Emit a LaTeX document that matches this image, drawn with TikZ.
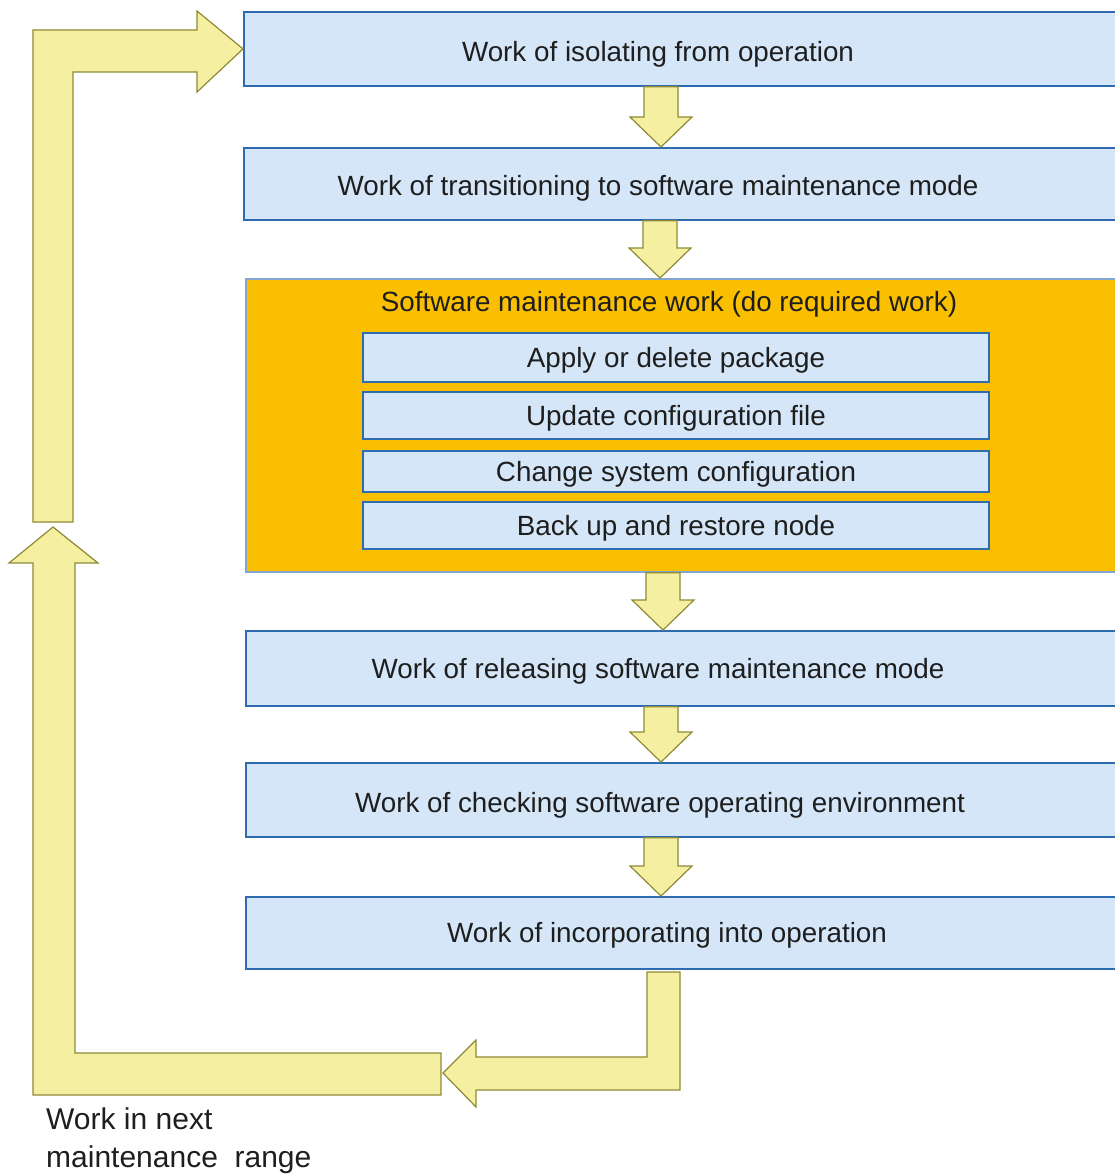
\documentclass[tikz,border=0pt]{standalone}
\usepackage{fontspec}
\setmainfont{Liberation Sans}
\usetikzlibrary{calc}

\definecolor{stepblue}{HTML}{D5E6F8}
\definecolor{stepedge}{HTML}{2E6BB0}
\definecolor{workorange}{HTML}{F9BF00}
\definecolor{arrowfill}{HTML}{F5EFA2}
\definecolor{arrowedge}{HTML}{8E8A35}
\definecolor{textgray}{HTML}{1E1E1E}

% block arrow pointing down: #1 = x of its axis, #2 = upper node, #3 = lower node
\newcommand{\flowarrow}[3]{%
  \draw[blockarrow] let \p1=(#2.south), \p2=(#3.north) in
    ({(#1-17)*1pt},\y1) -- ({(#1+17)*1pt},\y1) -- ({(#1+17)*1pt},\y2+30pt)
    -- ({(#1+31)*1pt},\y2+30pt) -- ({#1*1pt},\y2) -- ({(#1-31)*1pt},\y2+30pt)
    -- ({(#1-17)*1pt},\y2+30pt) -- cycle;}

\begin{document}
\begin{tikzpicture}[
    x=1pt, y=-1pt,
    stepbox/.style={rectangle, draw=stepedge, fill=stepblue, line width=1.8pt, anchor=north west, minimum width=880pt, inner sep=0pt},
    subbox/.style={rectangle, draw=stepedge, fill=stepblue, line width=1.8pt, minimum width=626pt, inner sep=0pt},
    steptext/.style={font=\fontsize{27.8}{32}\selectfont, text=textgray, inner sep=0pt},
    looptext/.style={font=\fontsize{30}{38}\selectfont, text=textgray, inner sep=0pt, align=left},
    blockarrow/.style={draw=arrowedge, fill=arrowfill, line width=1.2pt, line join=miter}
]
\useasboundingbox (0,0) rectangle (1115,1174);

% Boxes
\node[stepbox, minimum height=74pt] (isolate) at (243,11) {};
\node[stepbox, minimum height=72pt] (transit) at (243,147) {};
\node[stepbox, draw=stepedge!60, fill=workorange, minimum height=293pt] (maint) at (245,278) {};
\node[stepbox, minimum height=75pt] (release) at (245,630) {};
\node[stepbox, minimum height=74pt] (check) at (245,762) {};
\node[stepbox, minimum height=72pt] (incorp) at (245,896) {};

% Sub-steps of the maintenance work
\node[subbox, minimum height=49pt] (package) at (676,357.5) {};
\node[subbox, minimum height=47pt] (config) at (676,415.5) {};
\node[subbox, minimum height=41pt] (system) at (676,471.5) {};
\node[subbox, minimum height=47pt] (backup) at (676,525.5) {};

% Texts
\node[steptext] (isolatetxt) at (658,54) {Work of isolating from operation};
\node[steptext] (transittxt) at (658,188) {Work of transitioning to software maintenance mode};
\node[steptext] (mainttxt) at (669,304) {Software maintenance work (do required work)};
\node[steptext, yshift=-3pt] (packagetxt) at (package) {Apply or delete package};
\node[steptext, yshift=-3pt] (configtxt) at (config) {Update configuration file};
\node[steptext, yshift=-3pt] (systemtxt) at (system) {Change system configuration};
\node[steptext, yshift=-3pt] (backuptxt) at (backup) {Back up and restore node};
\node[steptext] (releasetxt) at (658,671) {Work of releasing software maintenance mode};
\node[steptext] (checktxt) at (660,805) {Work of checking software operating environment};
\node[steptext] (incorptxt) at (667,935) {Work of incorporating into operation};

% Arrows between the steps
\flowarrow{661}{isolate}{transit}
\flowarrow{660}{transit}{maint}
\flowarrow{663}{maint}{release}
\flowarrow{661}{release}{check}
\flowarrow{661}{check}{incorp}

% Loop back to the first step
\draw[blockarrow] (647,972) -- (680,972) -- (680,1090) -- (476,1090) -- (476,1107)
    -- (443,1073) -- (476,1040) -- (476,1057) -- (647,1057) -- cycle;
\draw[blockarrow] (53,527) -- (98,563) -- (75,563) -- (75,1053) -- (441,1053)
    -- (441,1095) -- (33,1095) -- (33,563) -- (9,563) -- cycle;
\draw[blockarrow] (33,522) -- (33,30) -- (197,30) -- (197,11) -- (isolate.west)
    -- (197,92) -- (197,72) -- (73,72) -- (73,522) -- cycle;

\node[looptext, anchor=base west] (nextrange) at (46,1167) {Work in next\\maintenance\ \ range};
\end{tikzpicture}
\end{document}
